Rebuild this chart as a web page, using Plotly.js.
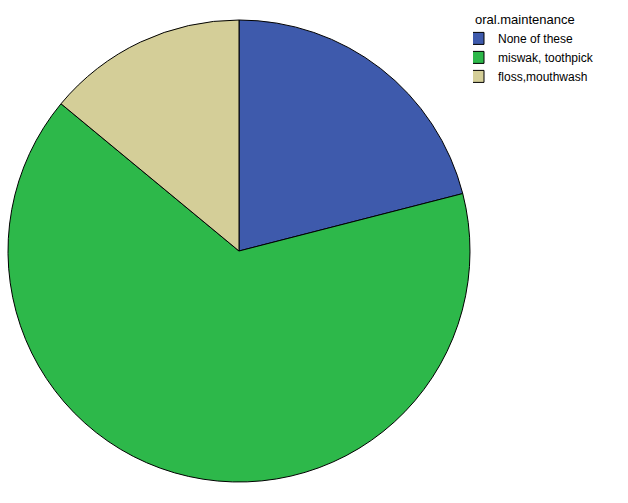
<!DOCTYPE html>
<html>
<head>
<meta charset="utf-8">
<script src="https://cdn.plot.ly/plotly-3.0.1.min.js"></script>
<style>
  html, body { margin: 0; padding: 0; background: #fff; }
  #chart { width: 628px; height: 503px; }
</style>
</head>
<body>
<div id="chart"></div>
<script>
// categories and their shares (percent)
var categories = ["None of these", "miswak, toothpick", "floss,mouthwash"];
var shares = [21, 65, 14];
var sliceColors = ["#3e5aac", "#2db84a", "#d4ce98"];

var trace = {
    type: "pie",
    labels: categories,
    values: shares,
    sort: false,
    direction: "clockwise",
    rotation: 0,
    textinfo: "none",
    hoverinfo: "label+percent",
    marker: {
        colors: sliceColors,
        line: {color: "#000000", width: 1}
    },
    domain: {x: [8 / 628, 470 / 628], y: [21 / 503, 483 / 503]}
};

var layout = {
    width: 628,
    height: 503,
    margin: {l: 0, r: 0, t: 0, b: 0},
    paper_bgcolor: "#ffffff",
    font: {family: "Liberation Sans, Arial, sans-serif", color: "#000000"},
    showlegend: true,
    legend: {
        x: 473 / 628,
        y: 1 - 7 / 503,
        xanchor: "left",
        yanchor: "top",
        title: {text: "oral.maintenance", font: {size: 13}},
        font: {size: 12},
        itemwidth: 30,
        indentation: -15,
        tracegroupgap: 0,
        bgcolor: "rgba(0,0,0,0)"
    }
};

Plotly.newPlot("chart", [trace], layout, {displayModeBar: false, staticPlot: true});
</script>
</body>
</html>
